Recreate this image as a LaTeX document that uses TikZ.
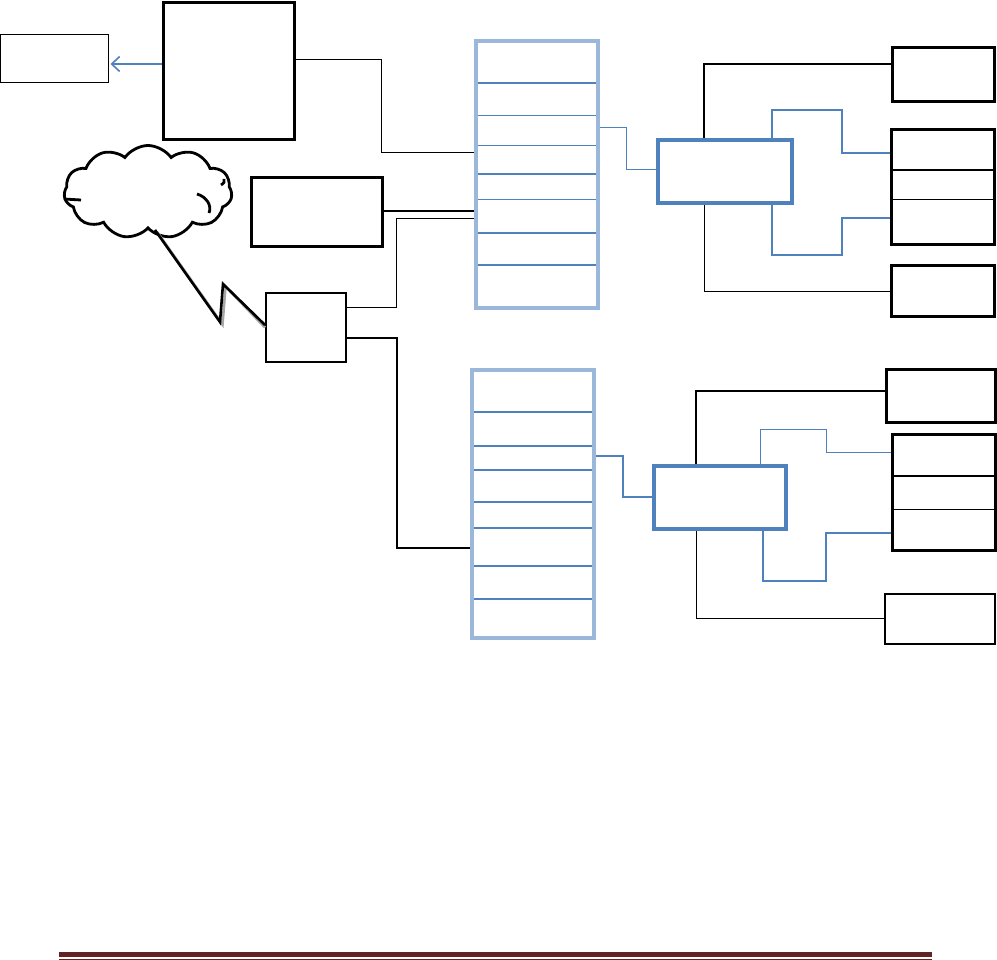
\documentclass[tikz,border=0pt]{standalone}
\usetikzlibrary{shapes.symbols,arrows.meta}
\definecolor{bblue}{HTML}{4F81BD}
\definecolor{lblue}{HTML}{9BB7DA}
\definecolor{maroon}{HTML}{622423}
\tikzset{
  bx/.style={draw=black,fill=white,inner sep=0pt,anchor=north west},
  thinbx/.style={bx,line width=1pt},
  thickbx/.style={bx,line width=2.6pt},
  rackbx/.style={draw=lblue,line width=4pt,inner sep=0pt,anchor=north west},
  swbx/.style={draw=bblue,fill=white,line width=3.6pt,inner sep=0pt,anchor=north west},
  divthick/.style={draw=bblue,line width=2pt},
  divthin/.style={draw=bblue,line width=1pt},
  blk/.style={draw=black,line width=1pt},
  blkm/.style={draw=black,line width=1.6pt},
  blu/.style={draw=bblue,line width=1.3pt},
}
\begin{document}
\begin{tikzpicture}[x=1pt,y=-1pt]
\useasboundingbox (0,0) rectangle (997,960);
% left side boxes
\node[thinbx,minimum width=108pt,minimum height=48pt] (lbox) at (0,34) {};
\node[thickbx,minimum width=131pt,minimum height=137pt] (big) at (162,1) {};
\node[thickbx,minimum width=131pt,minimum height=69pt] (box2) at (250,176) {};
\node[bx,line width=2.2pt,minimum width=80pt,minimum height=69pt] (small) at (265,292) {};
% cloud
\node[cloud,draw,line width=2.8pt,cloud puffs=11,cloud puff arc=110,aspect=1.8,
      minimum width=168pt,minimum height=93pt,inner sep=0pt] (cloud) at (148,192) {};
\draw[line width=2.8pt] (64,199) -- (81,200);
\draw[line width=2.8pt] (197,194) .. controls (207,197) and (212,206) .. (209,213);
\draw[line width=2.8pt] (224,179) .. controls (225,182) and (224,183) .. (221,185);
% lightning with shadow
\coordinate (lstart) at ([xshift=7pt]cloud.south);
\draw[gray!70,line width=2.6pt] ([shift={(2.5,2.5)}]lstart) -- (222.5,324.5) -- (225.5,286.5) -- ([shift={(0,2.5)}]small.west |- 0,325);
\draw[black,line width=2.6pt] (lstart) -- (220,322) -- (223,284) -- (small.west |- 0,325);
% racks
\node[rackbx,minimum width=122pt,minimum height=267pt] (rack1) at (474,39) {};
\node[rackbx,minimum width=122pt,minimum height=268pt] (rack2) at (470,368) {};
\foreach \yy/\st in {83/divthick,116/divthin,146/divthin,174/divthick,200/divthin,233/divthick,265/divthick}
  \draw[\st] (rack1.west |- 0,\yy) -- (rack1.east |- 0,\yy);
\foreach \yy/\st in {412/divthick,446/divthick,470/divthick,502/divthick,528/divthick,566/divthick,599/divthick}
  \draw[\st] (rack2.west |- 0,\yy) -- (rack2.east |- 0,\yy);
\node[rackbx,minimum width=122pt,minimum height=267pt] at (474,39) {};
\node[rackbx,minimum width=122pt,minimum height=268pt] at (470,368) {};
% switches
\node[swbx,minimum width=134pt,minimum height=63pt] (sw1) at (656,138) {};
\node[swbx,minimum width=132pt,minimum height=63pt] (sw2) at (652,464) {};
% right boxes
\node[thickbx,minimum width=102pt,minimum height=54pt] (A) at (891,46) {};
\node[bx,line width=3pt,minimum width=103pt,minimum height=115pt] (B) at (890,128) {};
\draw[line width=2pt] (B.west |- 0,170) -- (B.east |- 0,170);
\draw[line width=1pt] (B.west |- 0,200) -- (B.east |- 0,200);
\node[bx,line width=3pt,minimum width=103pt,minimum height=51pt] (C) at (890,264) {};
\node[thickbx,minimum width=109pt,minimum height=53pt] (D) at (885,368) {};
\node[bx,line width=3pt,minimum width=103pt,minimum height=116pt] (E) at (891,433) {};
\draw[line width=2pt] (E.west |- 0,476) -- (E.east |- 0,476);
\draw[line width=1pt] (E.west |- 0,509) -- (E.east |- 0,509);
\node[bx,line width=2pt,minimum width=110pt,minimum height=50pt] (F) at (884,593) {};
% connectors left
\draw[draw=bblue,line width=1.6pt,-{Straight Barb[length=8pt,width=15pt]}] (big.west |- 0,64) -- ([xshift=1.5pt]lbox.east |- 0,64);
\draw[blk] (big.east |- 0,60) -- (381,60) |- (rack1.west |- 0,153);
\draw[draw=black,line width=2.2pt] (box2.east |- 0,211) -- (rack1.west |- 0,211);
\draw[blk] (small.east |- 0,308) -- (396,308) |- (rack1.west |- 0,219);
\draw[blkm] (small.east |- 0,338) -- (397,338) |- (rack2.west |- 0,548);
% rack to switch
\draw[draw=bblue,line width=1pt] (rack1.east |- 0,128) -- (626,128) |- (sw1.west |- 0,170);
\draw[draw=bblue,line width=1.6pt] (rack2.east |- 0,456) -- (623,456) |- (sw2.west |- 0,497);
% switch 1 to boxes
\draw[blkm] (sw1.north -| 704,0) |- (A.west |- 0,64);
\draw[blu] (sw1.north -| 772,0) -- (772,110) -- (842,110) -- (842,153) -- (B.west |- 0,153);
\draw[blu] (sw1.south -| 772,0) -- (772,255) -- (842,255) -- (842,218) -- (B.west |- 0,218);
\draw[blk] (sw1.south -| 704,0) |- (C.west |- 0,292);
% switch 2 to boxes
\draw[blkm] (sw2.north -| 696,0) |- (D.west |- 0,391);
\draw[draw=bblue,line width=1pt] (sw2.north -| 760,0) -- (760,429) -- (826,429) -- (826,452) -- (E.west |- 0,452);
\draw[blu] (sw2.south -| 763,0) -- (763,581) -- (826,581) -- (826,533) -- (E.west |- 0,533);
\draw[blk] (sw2.south -| 696,0) |- (F.west |- 0,618);
% footer rule
\fill[maroon] (59,952) rectangle (932,957);
\draw[maroon,line width=0.8pt] (59,959.6) -- (932,959.6);
\end{tikzpicture}
\end{document}
